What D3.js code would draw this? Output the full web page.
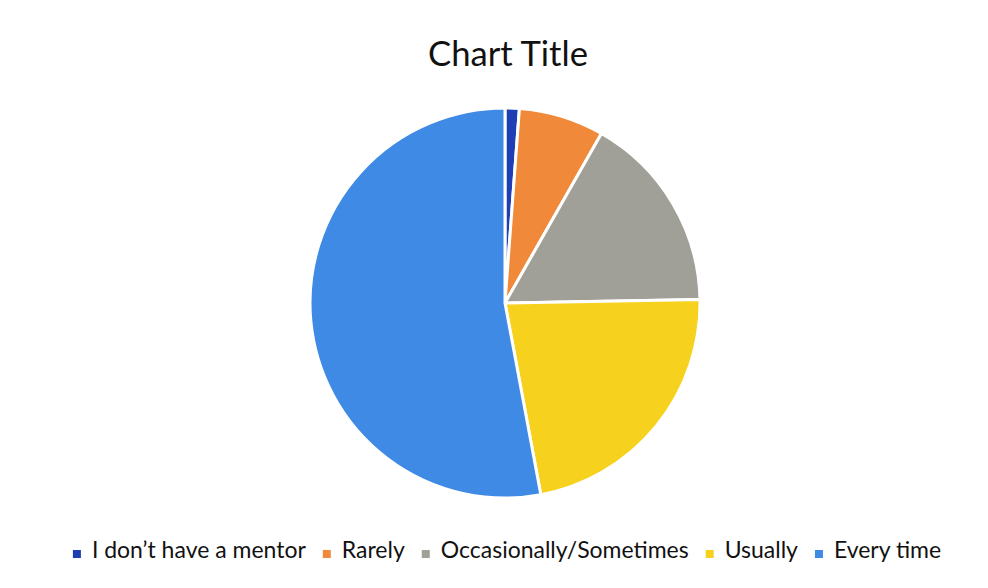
<!DOCTYPE html>
<html><head><meta charset="utf-8">
<script src="https://cdn.jsdelivr.net/npm/d3@7"></script>
<style>html,body{margin:0;padding:0;background:#fff;}svg{display:block;}</style>
</head><body>
<svg id="c" width="988" height="588"></svg>
<script>
const categories = ["I don\u2019t have a mentor", "Rarely", "Occasionally/Sometimes", "Usually", "Every time"];
const values = [1, 6, 14, 19, 45];
const colors = ["#1d3fb3", "#f08a3a", "#a09f98", "#f6d21e", "#3f8ae5"];
const title = "Chart Title";

const svg = d3.select("#c");
const W = 988, H = 588;
const cx = 505, cy = 303, r = 195;
const font = "Lato, 'Open Sans', sans-serif";

svg.append("rect").attr("width", W).attr("height", H).attr("fill", "#fff");

const tt = svg.append("text").attr("x", 508).attr("y", 66).attr("text-anchor", "middle")
  .attr("font-family", font).attr("font-size", 29).attr("fill", "#111").text(title);
const tw = tt.node().getComputedTextLength();
tt.attr("font-size", 29 * 160 / tw);

const pie = d3.pie().sort(null).value(d => d)(values);
const arc = d3.arc().innerRadius(0).outerRadius(r);
const g = svg.append("g").attr("transform", `translate(${cx},${cy})`);
g.selectAll("path").data(pie).join("path")
  .attr("d", arc).attr("fill", (d, i) => colors[i])
  .attr("stroke", "#fff").attr("stroke-width", 3).attr("stroke-linejoin", "round");

// legend
const lg = svg.append("g");
const items = lg.selectAll("g").data(categories).join("g");
items.append("rect").attr("width", 8).attr("height", 8).attr("y", -8)
  .attr("fill", (d, i) => colors[i]);
const texts = items.append("text").attr("x", 19).attr("y", 0).attr("font-family", font)
  .attr("font-size", 20).attr("fill", "#111").text(d => d);
const w0 = texts.nodes()[0].getComputedTextLength();
texts.attr("font-size", 20 * 214 / w0);
let x = 0;
const gap = 17;
items.each(function() {
  const t = d3.select(this).select("text").node().getComputedTextLength();
  d3.select(this).attr("transform", `translate(${x},0)`);
  x += 19 + t + gap;
});
const total = x - gap;
lg.attr("transform", `translate(${507 - total / 2},558)`);
</script>
</body></html>
